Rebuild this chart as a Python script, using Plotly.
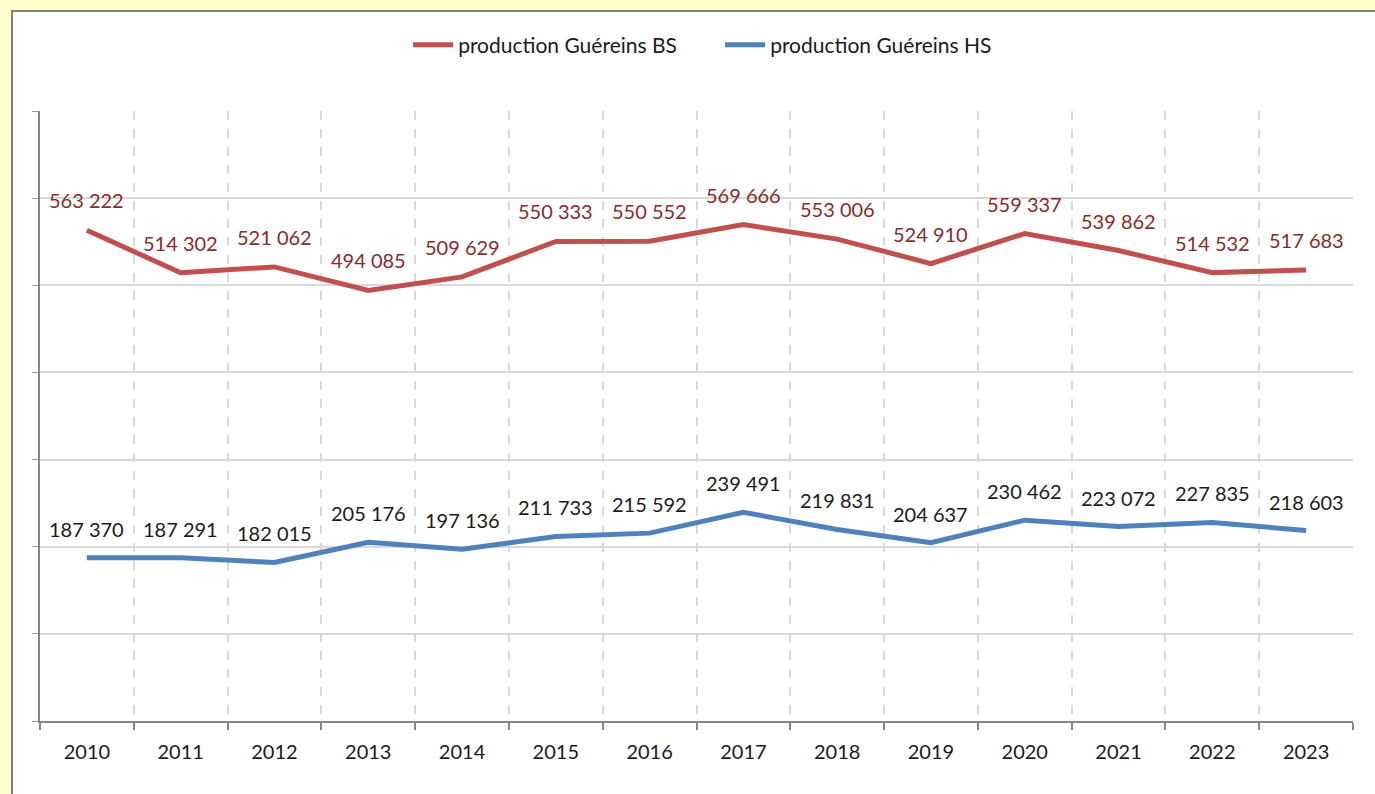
import plotly.graph_objects as go

years = list(range(2010, 2024))
bs_values = [563222, 514302, 521062, 494085, 509629, 550333, 550552, 569666,
             553006, 524910, 559337, 539862, 514532, 517683]
hs_values = [187370, 187291, 182015, 205176, 197136, 211733, 215592, 239491,
             219831, 204637, 230462, 223072, 227835, 218603]
series_names = ["production Guéreins BS", "production Guéreins HS"]

RED = "#C0504D"
BLUE = "#4F81BD"
FONT = "Lato"


def fmt(v):
    return f"{v:,}".replace(",", " ")


fig = go.Figure()
fig.add_trace(go.Scatter(x=years, y=bs_values, mode="lines", name=series_names[0],
                         line=dict(color=RED, width=5)))
fig.add_trace(go.Scatter(x=years, y=hs_values, mode="lines", name=series_names[1],
                         line=dict(color=BLUE, width=5)))

annotations = []
for x, v in zip(years, bs_values):
    annotations.append(dict(x=x, y=v, xref="x", yref="y", text=fmt(v), showarrow=False,
                            yshift=30, font=dict(family=FONT, size=20, color="#8B2A28")))
for x, v in zip(years, hs_values):
    annotations.append(dict(x=x, y=v, xref="x", yref="y", text=fmt(v), showarrow=False,
                            yshift=29, font=dict(family=FONT, size=20, color="#1A1A1A")))

fig.update_layout(
    width=1375, height=794,
    margin=dict(l=40, r=22, t=111, b=73),
    paper_bgcolor="#FFFFCC",
    plot_bgcolor="rgba(0,0,0,0)",
    font=dict(family=FONT, size=20, color="#1A1A1A"),
    showlegend=True,
    legend=dict(orientation="h", x=0.518, xanchor="center", y=1.108, yanchor="middle",
                font=dict(family=FONT, size=21, color="#1A1A1A"),
                bgcolor="rgba(0,0,0,0)", itemwidth=40, entrywidth=257,
                tracegroupgap=0),
    annotations=annotations,
    shapes=[dict(type="rect", xref="paper", yref="paper",
                 x0=-0.0213, x1=1.2, y0=-0.3, y1=1.1639,
                 fillcolor="white", line=dict(color="#808080", width=2), layer="below")],
    xaxis=dict(range=[2009.5, 2023.5], tickmode="linear", tick0=2010, dtick=1,
               tickformat="d", showgrid=False, zeroline=False, ticks="",
               ticklabelstandoff=12,
               showline=True, linecolor="#868686", linewidth=2,
               tickfont=dict(family=FONT, size=20, color="#1A1A1A"),
               minor=dict(tickmode="linear", tick0=2009.5, dtick=1, ticks="outside",
                          ticklen=7, tickwidth=2, tickcolor="#868686",
                          showgrid=True, gridcolor="#D9D9D9", gridwidth=2, griddash="dash")),
    yaxis=dict(range=[0, 700000], tickmode="linear", tick0=0, dtick=100000,
               showticklabels=False, showgrid=True, gridcolor="#D9D9D9", gridwidth=2,
               zeroline=False, showline=True, linecolor="#868686", linewidth=2,
               ticks="outside", ticklen=6, tickwidth=1, tickcolor="#9A9A9A"),
)

fig.write_html("out.html", config={"displayModeBar": False},
               post_script="document.body.style.margin='0px';document.body.style.overflow='hidden';")
